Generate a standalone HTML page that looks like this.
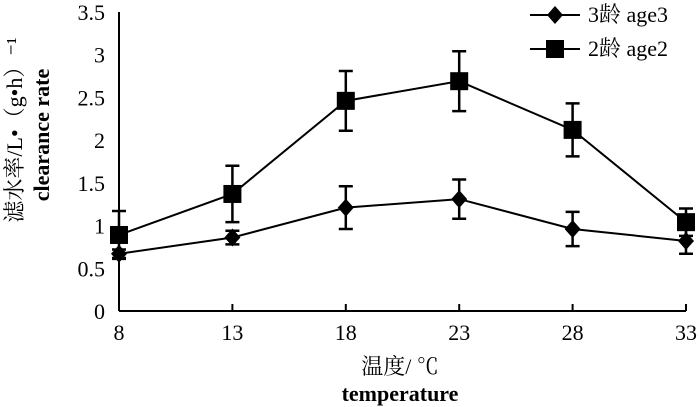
<!DOCTYPE html>
<html><head><meta charset="utf-8"><style>body{margin:0;background:#fff}svg{display:block}text{font-family:"Liberation Serif","Noto Serif CJK SC",serif;fill:#000}</style></head>
<body>
<svg id="chart" width="700" height="407" viewBox="0 0 700 407"></svg>
<script>
const categories=[8,13,18,23,28,33];
const age3=[0.67,0.86,1.21,1.31,0.96,0.82];
const age3Err=[0.05,0.08,0.25,0.23,0.2,0.15];
const age2=[0.89,1.37,2.46,2.69,2.12,1.04];
const age2Err=[0.28,0.33,0.35,0.35,0.31,0.16];
const yTicks=["0","0.5","1","1.5","2","2.5","3","3.5"];
const svg=document.getElementById('chart');const NS="http://www.w3.org/2000/svg";
function mk(t,a,p){const e=document.createElementNS(NS,t);for(const k in a)e.setAttribute(k,a[k]);(p||svg).appendChild(e);return e;}
const x0=119,x1=686,y0=311,yTop=12;
const xs=i=>x0+(x1-x0)*i/(categories.length-1);
const ys=v=>y0-(y0-yTop)*v/3.5;
let e;
e=mk('line',{x1:x0,y1:yTop,x2:x0,y2:y0,stroke:'#000','stroke-width':2});

e=mk('line',{x1:x0,y1:y0,x2:x1,y2:y0,stroke:'#000','stroke-width':2});

yTicks.forEach((t,i)=>{e=mk('text',{x:105,y:ys(+t)+8,'font-size':22,'text-anchor':'end'});e.textContent=t;
});
categories.forEach((c,i)=>{mk('line',{x1:xs(i),y1:y0,x2:xs(i),y2:y0-7,stroke:'#000','stroke-width':2});
e=mk('text',{x:xs(i),y:340,'font-size':22,'text-anchor':'middle'});e.textContent=c;
});
function series(vals,errs,name,marker){
 const g=mk('g',{});
 mk('polyline',{points:vals.map((v,i)=>xs(i)+','+ys(v)).join(' '),fill:'none',stroke:'#000','stroke-width':2},g);
 vals.forEach((v,i)=>{const x=xs(i),a=ys(v+errs[i]),b=ys(v-errs[i]);
  mk('path',{d:`M${x},${a}V${b}M${x-7},${a}H${x+7}M${x-7},${b}H${x+7}`,stroke:'#000','stroke-width':2.5,fill:'none'},g);
  marker(x,ys(v),g);});
}
const diamond=(x,y,g)=>mk('path',{d:`M${x},${y-9}L${x+8},${y}L${x},${y+9}L${x-8},${y}Z`,fill:'#000'},g);
const square=(x,y,g)=>mk('rect',{x:x-9,y:y-9,width:18,height:18,fill:'#000'},g);
series(age2,age2Err,'series-age2',square);
series(age3,age3Err,'series-age3',diamond);
// legend
let lg=mk('g',{});
mk('line',{x1:530,y1:15,x2:580,y2:15,stroke:'#000','stroke-width':2},lg);diamond(555,15,lg);
e=mk('text',{x:588,y:22,'font-size':22},lg);e.textContent='3龄 age3';
mk('line',{x1:530,y1:49,x2:580,y2:49,stroke:'#000','stroke-width':2},lg);square(555,49,lg);
e=mk('text',{x:588,y:56,'font-size':22},lg);e.textContent='2龄 age2';
// axis titles
e=mk('text',{x:400,y:374,'font-size':22,'text-anchor':'middle'});e.textContent='温度/ ℃';

e=mk('text',{x:400,y:401,'font-size':22,'text-anchor':'middle','font-weight':'bold'});e.textContent='temperature';

e=mk('text',{x:0,y:0,'font-size':22,'text-anchor':'middle',transform:'translate(22,130) rotate(-90)'});e.textContent='滤水率/L•（g•h）⁻¹';

e=mk('text',{x:0,y:0,'font-size':22,'text-anchor':'middle','font-weight':'bold',transform:'translate(49,135) rotate(-90)'});e.textContent='clearance rate';

</script>
</body></html>
